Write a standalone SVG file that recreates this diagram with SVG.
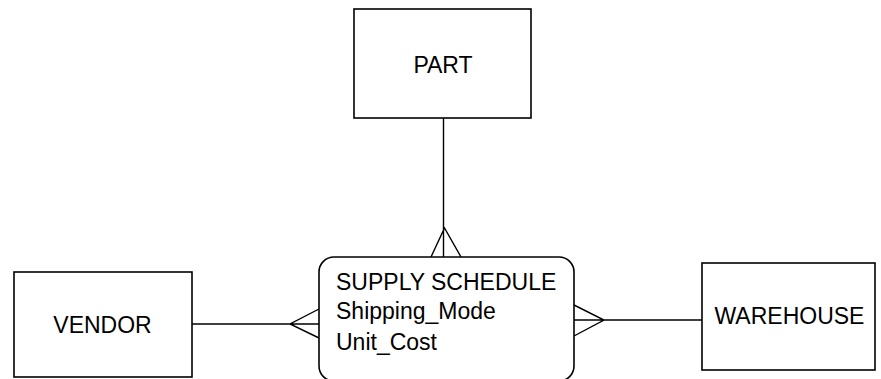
<svg xmlns="http://www.w3.org/2000/svg" width="881" height="379" viewBox="0 0 881 379">
<style>
.box{fill:#fff;stroke:#000;stroke-width:1.6}
.ln{fill:none;stroke:#000;stroke-width:1.4}
.t{font-family:"Liberation Sans",Arial,sans-serif;font-size:23px;fill:#000}
</style>
<rect width="881" height="379" fill="#fff"/>
<g id="connectors">
<path class="ln" d="M443.5,118 V257 M431,257 L444.5,228 L461,257"/>
<path class="ln" d="M192,324 H319 M319,309 L290,324 L319,338"/>
<path class="ln" d="M574,320 H702 M574,305 L604,320 L574,336"/>
</g>
<g id="part">
<rect class="box" x="354" y="9" width="177" height="109"/>
<text class="t" x="443" y="73" text-anchor="middle">PART</text>
</g>
<g id="vendor">
<rect class="box" x="14" y="272" width="178" height="105"/>
<text class="t" x="102.5" y="333" text-anchor="middle">VENDOR</text>
</g>
<g id="warehouse">
<rect class="box" x="702" y="263" width="173" height="107"/>
<text class="t" x="789.5" y="324" text-anchor="middle">WAREHOUSE</text>
</g>
<g id="supply-schedule">
<rect class="box" x="319" y="257" width="255" height="124" rx="15"/>
<text class="t" x="336" y="290">SUPPLY SCHEDULE</text>
<text class="t" x="336" y="319">Shipping_Mode</text>
<text class="t" x="336" y="350">Unit_Cost</text>
</g>
</svg>
